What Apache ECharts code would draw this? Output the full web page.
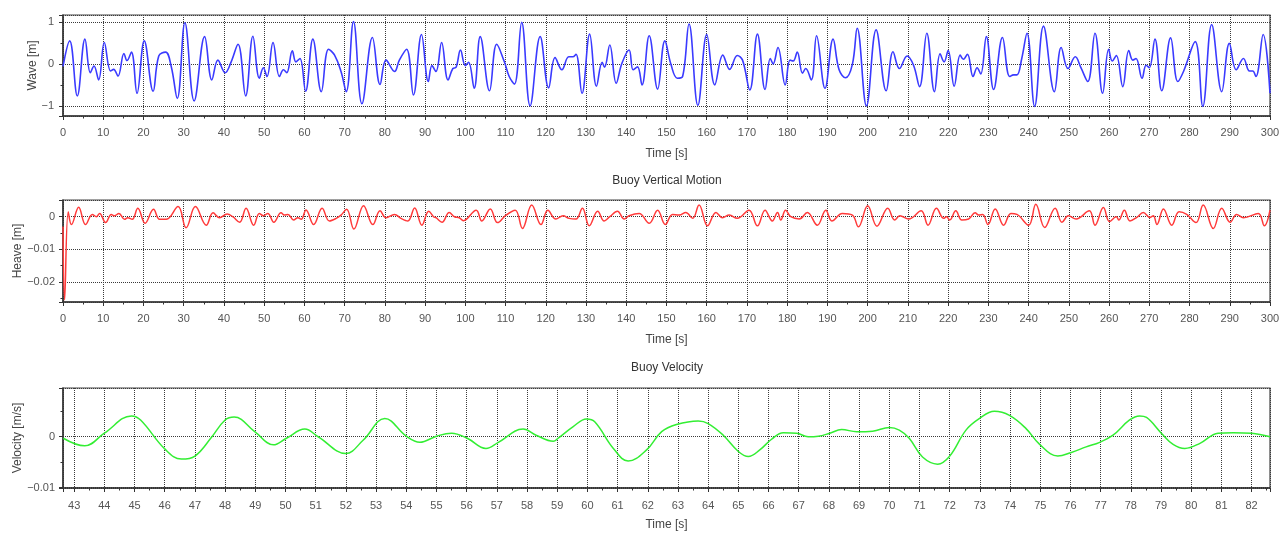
<!DOCTYPE html>
<html>
<head>
<meta charset="utf-8">
<script src="https://cdn.jsdelivr.net/npm/echarts@6/dist/echarts.min.js"></script>
<style>
html,body{margin:0;padding:0;background:#fff;}
#c{width:1288px;height:533px;}
</style>
</head>
<body>
<div id="c"></div>
<script>
// ---- Wave elevation [m] vs time [s] ----
const waveT = [0,1.66,3.56,5.46,6.8,7.7,8.86,10.26,11.84,12.6,13.66,15.15,15.9,17.0,18.4,20.2,22.4,23.8,25.5,26.9,28.4,30.3,32.6,35.2,37.0,38.5,40.3,41.8,43.5,45.4,47.2,48.8,49.8,50.7,52.2,53.8,54.8,55.6,57.0,57.9,58.9,60.3,62.1,64.2,66.0,67.5,69.1,70.4,72.2,74.3,76.9,78.8,80.3,82.4,83.6,85.4,87.1,89.1,90.8,91.7,92.7,94.1,95.7,96.9,97.7,98.8,100.0,100.8,102.2,103.7,106.0,107.8,109.7,110.9,112.2,114.0,116.1,118.6,120.7,122.3,124.0,125.7,126.7,127.5,129.0,130.9,132.6,134.0,134.6,135.9,137.5,138.9,140.7,141.7,142.8,143.9,145.7,147.8,149.6,151.1,152.7,154.0,155.6,157.8,160.0,162.0,164.0,165.7,167.6,168.9,170.7,172.6,174.5,175.8,176.5,177.7,179.5,180.7,181.5,182.5,183.8,184.6,186.0,187.3,189.4,191.4,192.9,194.5,196.2,197.4,199.7,202.1,204.6,206.3,207.9,209.8,211.4,212.9,214.7,216.6,218.0,219.0,220.0,221.5,223.0,223.8,224.8,226.2,227.2,228.1,229.5,231.3,233.5,235.3,236.3,237.1,238.3,239.6,241.5,243.7,246.4,248.1,249.8,251.6,253.0,254.7,256.5,258.4,259.9,260.8,261.8,263.4,264.9,265.9,266.7,268.2,269.2,270.0,271.4,273.1,275.3,277.1,278.5,281.4,283.3,285.5,288.0,289.9,291.6,293.4,294.9,295.7,296.5,298.3,300];
const waveV = [-0.05,0.56,-0.75,0.60,-0.2,-0.04,-0.37,0.52,-0.16,-0.12,-0.28,0.26,0.09,0.29,-0.69,0.56,-0.64,0.2,0.29,-0.05,-0.81,0.99,-0.87,0.66,-0.37,0.10,-0.2,0.06,0.48,-0.75,0.67,-0.33,-0.08,-0.29,0.52,-0.29,-0.13,-0.2,0.32,0.06,0.14,-0.64,0.60,-0.65,0.36,0.22,-0.17,-0.65,1.02,-0.94,0.64,-0.48,0.10,-0.17,0.10,0.36,-0.73,0.71,-0.41,-0.03,-0.17,0.52,-0.37,-0.1,-0.07,0.34,-0.03,0.05,-0.57,0.66,-0.63,0.48,0.06,-0.29,-0.47,1.0,-0.99,0.66,-0.56,0.16,-0.13,0.18,0.18,0.24,-0.69,0.72,-0.52,0.05,-0.07,0.46,-0.45,0.02,0.34,-0.13,-0.06,-0.49,0.68,-0.59,0.56,0,-0.33,-0.29,0.96,-0.98,0.71,-0.49,0.22,-0.12,0.21,0.1,-0.61,0.72,-0.6,0.14,0.01,0.40,-0.49,0.1,0.08,0.29,-0.21,-0.1,-0.37,0.68,-0.57,0.60,-0.13,-0.32,0,0.86,-0.99,0.82,-0.63,0.30,-0.1,0.2,-0.02,-0.53,0.74,-0.65,0.25,0.06,0.33,-0.52,0.22,0.12,0.24,-0.29,-0.08,-0.23,0.66,-0.6,0.64,-0.29,-0.25,-0.25,0.14,0.74,-1.0,0.91,-0.65,0.40,-0.1,0.18,-0.08,-0.41,0.74,-0.69,0.36,0.08,0.21,-0.53,0.33,0.1,0.14,-0.33,-0.02,-0.08,0.6,-0.63,0.63,-0.41,-0.17,0.54,-1.0,0.95,-0.65,0.5,-0.13,0.14,-0.16,-0.16,-0.29,0.71,-0.69];

// ---- Buoy heave [m] vs time [s] ----
const heaveT = [0,0.4,1.3,2.1,3.9,5.6,7.3,8.3,9.1,10.6,12.0,12.8,13.9,15.3,16.1,17.2,18.6,20.4,22.5,24.0,25.7,28.6,30.6,32.9,35.6,37.3,38.9,40.8,42.2,43.9,45.5,47.4,48.8,49.8,50.9,52.4,54.2,55.0,55.9,57.3,58.4,59.2,60.4,62.3,64.4,66.2,67.9,69.1,70.5,72.3,74.7,77.0,78.8,80.3,82.4,84.0,85.7,87.4,89.2,90.9,92.1,92.7,94.2,96.0,97.3,98.5,99.5,102.7,104.1,106.2,108.0,110.1,112.4,114.2,116.5,118.8,120.5,122.5,124.3,125.8,127.5,129.1,130.8,132.9,134.5,135.9,137.8,139.5,140.7,143.2,145.7,147.8,149.7,151.5,153.2,154.8,156.5,158.1,160.2,162.3,163.9,165.6,167.6,170.5,172.6,174.5,176.3,177.6,178.4,179.6,180.9,183.0,185.0,187.5,189.6,191.1,193.7,196.2,197.7,200.0,202.3,205.0,206.7,208.0,210.2,213.3,215.0,217.1,218.9,219.6,220.4,221.9,223.4,225.1,226.7,227.6,228.6,229.9,231.7,233.8,235.6,237.1,240.0,241.8,244.0,246.6,248.3,249.9,251.8,255.1,256.5,258.6,260.1,261.8,262.4,263.8,265.2,266.9,268.5,270.2,271.0,271.9,273.5,275.6,277.4,279.3,281.6,283.4,285.9,288.0,290.1,291.7,293.4,297.1,298.6,300];
const heaveV = [-0.003,-0.0255,0.0015,-0.0024,0.0029,-0.0024,0.0007,0,0.001,-0.0018,0.0007,0.0003,0.001,-0.0008,-0.0003,-0.0008,0.0026,-0.002,0.0023,-0.0008,-0.0008,0.0031,-0.0034,0.0031,-0.0026,0.0012,-0.0003,0.0008,0,-0.0017,0.0026,-0.0026,0.001,0.0003,0.001,-0.0017,0.0012,0.0005,0.0007,-0.001,-0.0003,-0.0008,0.0021,-0.0024,0.0026,-0.0013,-0.0005,0.0005,0.0023,-0.0038,0.0034,-0.0024,0.0018,-0.0003,0.0007,-0.0005,-0.0013,0.0027,-0.0026,0.0017,0,-0.0003,-0.0017,0.0013,0,-0.0003,-0.0012,0.002,-0.0013,0.0024,-0.0018,0.0005,0.002,-0.0036,0.0036,-0.0024,0.002,-0.0007,0.0003,-0.0005,-0.0007,0.0026,-0.0028,0.0017,-0.0013,0,0.0017,-0.0007,0.0003,0.001,-0.002,0.002,-0.0024,0.0007,0.0005,0.0013,-0.0005,0.0036,-0.0028,0.0013,-0.0003,0.0005,-0.0005,0.002,-0.0028,0.002,-0.0013,0.0013,-0.001,0.002,0,-0.0007,0.0013,-0.0026,0.002,-0.0013,0.001,0.0005,-0.0031,0.0034,-0.0029,0.0026,-0.001,0.0003,-0.0007,0.0018,-0.0026,0.0026,-0.0005,0,-0.001,0.0018,-0.001,-0.0007,0.0012,0.0005,0.0007,-0.0024,0.0024,-0.0026,0.001,0.0007,-0.0026,0.0038,-0.0033,0.0026,-0.0017,0.0003,-0.0007,0.0018,-0.0026,0.0028,-0.0015,0,-0.001,0.002,-0.0013,-0.0002,0.0013,-0.0002,0.0003,-0.0024,0.0024,-0.0026,0.0015,0.0007,-0.0018,0.0036,-0.0036,0.0026,-0.0017,0.0007,-0.0003,0.001,-0.0028,0.002];

// ---- Buoy velocity [m/s] vs time [s] ----
const velT = [42.64,43.35,44.0,44.9,45.2,46.0,46.55,47.0,47.55,48.0,48.3,48.98,49.6,50.03,50.64,51.08,52.0,52.57,53.29,54.0,54.45,55.0,55.5,56.02,56.64,57.05,57.87,58.3,58.87,59.03,59.53,59.97,60.25,60.86,61.35,61.96,62.46,62.95,63.67,64.0,64.5,65.0,65.33,65.71,66.1,66.49,66.93,67.31,67.65,68.03,68.42,68.92,69.45,70.0,70.33,70.66,71.1,71.6,71.99,72.54,72.99,73.48,73.98,74.53,74.98,75.58,76.03,76.52,76.97,77.41,77.96,78.29,78.52,79.01,79.4,79.79,80.29,80.89,81.39,82.0,82.61];
const velV = [-0.0003,-0.0018,0.0007,0.0041,0.0033,-0.0024,-0.0044,-0.0038,-0.0001,0.0033,0.0039,0.001,-0.0016,-0.0003,0.0015,0,-0.0033,-0.0007,0.0036,0.0001,-0.0011,0.0001,0.0007,-0.0003,-0.0023,-0.0011,0.0015,0.0003,-0.0009,-0.0003,0.002,0.0035,0.0029,-0.0023,-0.0048,-0.0026,0.001,0.0024,0.0031,0.0026,0.0003,-0.0029,-0.0039,-0.0026,-0.0005,0.0008,0.0007,0,0.0001,0.0007,0.0014,0.001,0.0011,0.0018,0.0013,-0.0003,-0.004,-0.0054,-0.0039,0.0013,0.0036,0.005,0.0042,0.0016,-0.0015,-0.0038,-0.0031,-0.002,-0.0011,0.0003,0.0033,0.0041,0.0038,0.0007,-0.0015,-0.0023,-0.0013,0.0007,0.0008,0.0007,0];

// ---- Titles / axis names ----
const titles = ['', 'Buoy Vertical Motion', 'Buoy Velocity'];
const yNames = ['Wave [m]', 'Heave [m]', 'Velocity [m/s]'];
const xName = 'Time [s]';

function zip(a, b) { return a.map((t, i) => [t, b[i]]); }

const FONT = 'Liberation Sans, Arial, sans-serif';
const gridLine = { show: true, lineStyle: { color: '#3a3a3a', width: 1, type: [1, 1] } };

function niceFmt(step) {
  return function (v) {
    const r = Math.round(v / step) * step;
    if (Math.abs(v - r) > step * 1e-3) return '';
    const s = String(+r.toFixed(6));
    return s.replace('-', '\u2212');
  };
}

function xAxis(grid, opts) {
  return Object.assign({
    type: 'value', gridIndex: grid,
    name: xName, nameLocation: 'middle', nameGap: 32, nameMoveOverlap: false,
    nameTextStyle: { fontFamily: FONT, fontSize: 12, color: '#444' },
    axisLine: { show: true, onZero: false, lineStyle: { color: '#333', width: 1.5 } },
    axisTick: { show: true, inside: false, length: 4, lineStyle: { color: '#333' } },
    minorTick: { show: true, splitNumber: 2, length: 2.5, lineStyle: { color: '#333' } },
    axisLabel: { fontFamily: FONT, fontSize: 11, color: '#555', margin: 11 },
    splitLine: gridLine
  }, opts);
}

function yAxis(grid, opts) {
  return Object.assign({
    type: 'value', gridIndex: grid,
    nameLocation: 'middle', nameRotate: 90, nameMoveOverlap: false,
    nameTextStyle: { fontFamily: FONT, fontSize: 12, color: '#444' },
    axisLine: { show: true, lineStyle: { color: '#333', width: 1.5 } },
    axisTick: { show: true, inside: false, length: 4, lineStyle: { color: '#333' } },
    minorTick: { show: true, splitNumber: 2, length: 2.5, lineStyle: { color: '#333' } },
    splitLine: gridLine
  }, opts);
}

const gridBase = { left: 63, width: 1207, show: true, borderColor: '#444', borderWidth: 1.2,
  backgroundColor: '#fff', containLabel: false, outerBoundsMode: 'none' };

const chart = echarts.init(document.getElementById('c'), null, { renderer: 'canvas' });
chart.setOption({
  animation: false,
  backgroundColor: '#fff',
  title: [
    { text: titles[1], left: 667, top: 175, textAlign: 'center', padding: 0,
      textStyle: { fontFamily: FONT, fontSize: 12, fontWeight: 'normal', color: '#333' } },
    { text: titles[2], left: 667, top: 362, textAlign: 'center', padding: 0,
      textStyle: { fontFamily: FONT, fontSize: 12, fontWeight: 'normal', color: '#333' } }
  ],
  grid: [
    Object.assign({}, gridBase, { top: 15, height: 101 }),
    Object.assign({}, gridBase, { top: 200, height: 102 }),
    Object.assign({}, gridBase, { top: 388, height: 100 })
  ],
  xAxis: [
    xAxis(0, { min: 0, max: 300, interval: 10 }),
    xAxis(1, { min: 0, max: 300, interval: 10 }),
    xAxis(2, { min: 42.63, max: 82.61, splitNumber: 40, nameGap: 31,
      axisLabel: { fontFamily: FONT, fontSize: 11, color: '#555', margin: 12, formatter: niceFmt(1) } })
  ],
  yAxis: [
    yAxis(0, { min: -1.23, max: 1.175, splitNumber: 2, name: yNames[0], nameGap: 24,
      axisLabel: { fontFamily: FONT, fontSize: 11, color: '#555', margin: 9, formatter: niceFmt(1) } }),
    yAxis(1, { min: -0.02615, max: 0.00513, splitNumber: 3, name: yNames[1], nameGap: 39,
      axisLabel: { fontFamily: FONT, fontSize: 11, color: '#555', margin: 8, formatter: niceFmt(0.01) } }),
    yAxis(2, { min: -0.0101, max: 0.0096, splitNumber: 2, name: yNames[2], nameGap: 39,
      axisLabel: { fontFamily: FONT, fontSize: 11, color: '#555', margin: 8, formatter: niceFmt(0.01) } })
  ],
  series: [
    { type: 'line', xAxisIndex: 0, yAxisIndex: 0, data: zip(waveT, waveV), showSymbol: false,
      smooth: 0.4, lineStyle: { color: '#3a3aff', width: 1.6 }, z: 5 },
    { type: 'line', xAxisIndex: 1, yAxisIndex: 1, data: zip(heaveT, heaveV), showSymbol: false,
      smooth: 0.4, lineStyle: { color: '#ff3a3a', width: 1.5 }, z: 5 },
    { type: 'line', xAxisIndex: 2, yAxisIndex: 2, data: zip(velT, velV), showSymbol: false,
      smooth: 0.4, lineStyle: { color: '#33ee33', width: 1.5 }, z: 5 }
  ]
});
</script>
</body>
</html>
